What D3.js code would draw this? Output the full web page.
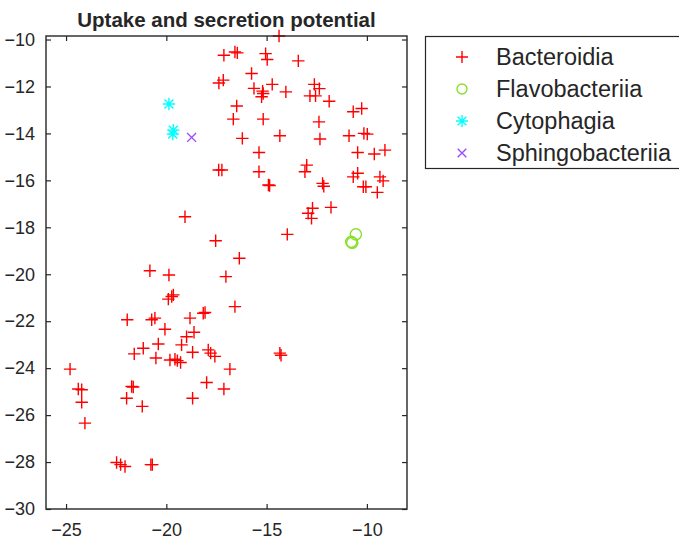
<!DOCTYPE html>
<html>
<head>
<meta charset="utf-8">
<script src="https://cdn.jsdelivr.net/npm/d3@7"></script>
<style>
  html, body { margin: 0; padding: 0; background: #fff; }
  svg { display: block; }
  text { font-family: "Liberation Sans", Arial, Helvetica, sans-serif; fill: #262626; }
</style>
</head>
<body>
<svg id="chart" width="679" height="546"></svg>
<script>
// Embedding coordinates per class
const bacteroidiaX = [-14.38,-17.13,-16.58,-16.46,-15.05,-14.97,-13.42,-17.16,-17.38,-15.75,-15.63,-15.17,-15.25,-15.20,-14.72,-14.04,-12.62,-12.37,-12.84,-12.56,-11.88,-16.49,-16.66,-15.17,-12.39,-10.68,-10.26,-16.21,-14.34,-12.34,-10.89,-10.15,-9.98,-15.38,-10.46,-9.63,-9.10,-17.39,-17.23,-15.38,-13.00,-13.09,-14.91,-14.85,-12.21,-12.15,-10.68,-10.46,-10.18,-10.05,-9.35,-9.19,-9.48,-12.71,-12.93,-12.76,-11.79,-13.97,-16.36,-17.03,-16.58,-14.34,-14.28,-19.07,-17.54,-20.82,-19.87,-19.90,-19.73,-19.65,-21.95,-20.73,-20.57,-18.82,-18.16,-18.07,-20.07,-18.62,-18.99,-20.40,-19.24,-21.15,-21.60,-18.69,-17.91,-17.79,-17.58,-20.52,-19.82,-19.57,-19.45,-19.29,-24.80,-24.39,-24.22,-24.22,-24.06,-21.73,-21.65,-21.98,-21.20,-18.69,-17.99,-17.13,-16.83,-22.48,-22.28,-22.06,-20.77,-20.70];
const bacteroidiaY = [-9.85,-10.67,-10.53,-10.57,-10.60,-10.85,-10.91,-11.73,-11.85,-11.45,-12.08,-12.30,-12.44,-12.20,-11.91,-12.23,-11.91,-12.09,-12.40,-12.40,-12.63,-12.83,-13.39,-13.39,-13.51,-13.08,-12.94,-14.21,-14.10,-14.24,-14.10,-14.00,-14.03,-14.81,-14.81,-14.88,-14.71,-15.56,-15.56,-15.63,-15.35,-15.63,-16.20,-16.22,-16.13,-16.25,-15.85,-15.70,-16.27,-16.27,-15.85,-16.02,-16.51,-17.19,-17.40,-17.62,-17.15,-18.30,-19.32,-20.10,-21.38,-23.36,-23.45,-17.55,-18.57,-19.85,-20.03,-21.06,-20.95,-20.88,-21.94,-21.94,-21.87,-21.87,-21.66,-21.63,-22.34,-22.47,-22.66,-22.97,-23.01,-23.15,-23.39,-23.32,-23.22,-23.36,-23.50,-23.57,-23.65,-23.62,-23.68,-23.76,-24.04,-24.89,-24.92,-25.45,-26.34,-24.78,-24.80,-25.28,-25.63,-25.28,-24.61,-24.89,-24.04,-28.02,-28.11,-28.19,-28.11,-28.11];
const flavobacteriiaX = [-10.55,-10.73,-10.78];
const flavobacteriiaY = [-18.30,-18.66,-18.62];
const cytophagiaX = [-19.87,-19.65,-19.68];
const cytophagiaY = [-12.75,-13.86,-14.03];
const sphingobacteriiaX = [-18.74];
const sphingobacteriiaY = [-14.17];

const classNames = ["Bacteroidia","Flavobacteriia","Cytophagia","Sphingobacteriia"];
const classColors = ["#ff0000","#88e02a","#00ffff","#9a4dff"];
const classMarkers = ["plus","circle","asterisk","cross"];

const xTicks = [-25,-20,-15,-10];
const yTicks = [-30,-28,-26,-24,-22,-20,-18,-16,-14,-12,-10];
const xDomain = [-26,-8];
const yDomain = [-30,-9.85];
const titleText = "Uptake and secretion potential";

const plot = { left: 46, right: 407, top: 36, bottom: 509 };
const axisColor = "#262626";

const svg = d3.select("#chart");
const x = d3.scaleLinear().domain(xDomain).range([plot.left, plot.right]);
const y = d3.scaleLinear().domain(yDomain).range([plot.bottom, plot.top]);

// Marker path generators (centered on 0,0)
function markerPath(kind, s) {
  const p = d3.path();
  if (kind === "plus") {
    p.moveTo(-s, 0); p.lineTo(s, 0); p.moveTo(0, -s); p.lineTo(0, s);
  } else if (kind === "cross") {
    const c = s * 0.72;
    p.moveTo(-c, -c); p.lineTo(c, c); p.moveTo(-c, c); p.lineTo(c, -c);
  } else if (kind === "asterisk") {
    const c = s * 0.72;
    p.moveTo(-s, 0); p.lineTo(s, 0); p.moveTo(0, -s); p.lineTo(0, s);
    p.moveTo(-c, -c); p.lineTo(c, c); p.moveTo(-c, c); p.lineTo(c, -c);
  } else if (kind === "circle") {
    p.moveTo(s, 0); p.arc(0, 0, s, 0, 2 * Math.PI);
  }
  return p.toString();
}

// Axes background
svg.append("rect")
  .attr("x", plot.left).attr("y", plot.top)
  .attr("width", plot.right - plot.left).attr("height", plot.bottom - plot.top)
  .attr("fill", "#fff");

// Bottom axis with inward ticks and labels
const xAxisB = d3.axisBottom(x).tickValues(xTicks).tickSizeInner(-5).tickSizeOuter(0).tickPadding(14)
  .tickFormat(d3.format("d"));
const gxb = svg.append("g").attr("transform", `translate(0,${plot.bottom})`).call(xAxisB);
// Top axis ticks only
const gxt = svg.append("g").attr("transform", `translate(0,${plot.top})`)
  .call(d3.axisTop(x).tickValues(xTicks).tickSizeInner(-5).tickSizeOuter(0).tickFormat(""));
// Left axis
const yAxisL = d3.axisLeft(y).tickValues(yTicks).tickSizeInner(-5).tickSizeOuter(0).tickPadding(11)
  .tickFormat(d3.format("d"));
const gyl = svg.append("g").attr("transform", `translate(${plot.left},0)`).call(yAxisL);
// Right axis ticks only
const gyr = svg.append("g").attr("transform", `translate(${plot.right},0)`)
  .call(d3.axisRight(y).tickValues(yTicks).tickSizeInner(-5).tickSizeOuter(0).tickFormat(""));

[gxb, gxt, gyl, gyr].forEach(g => {
  g.select(".domain").remove();
  g.selectAll(".tick line").attr("stroke", axisColor).attr("stroke-width", 1.2);
  g.selectAll(".tick text").attr("fill", axisColor).style("font-size", "18px")
    .style("font-family", '"Liberation Sans", Arial, sans-serif');
});
gxb.selectAll(".tick text").attr("dy", "0.71em");

// Data marks
const layer = svg.append("g");
const groups = [
  [bacteroidiaX, bacteroidiaY],
  [flavobacteriiaX, flavobacteriiaY],
  [cytophagiaX, cytophagiaY],
  [sphingobacteriiaX, sphingobacteriiaY]
];
const markerSize = [6.2, 5.6, 6.2, 6.2];
groups.forEach(([xs, ys], gi) => {
  const pts = xs.map((v, i) => [v, ys[i]]);
  layer.selectAll(null).data(pts).enter().append("path")
    .attr("transform", d => `translate(${x(d[0])},${y(d[1])})`)
    .attr("d", markerPath(classMarkers[gi], markerSize[gi]))
    .attr("fill", "none")
    .attr("stroke", classColors[gi])
    .attr("stroke-width", 1.4);
});

// Box outline on top
svg.append("rect")
  .attr("x", plot.left).attr("y", plot.top)
  .attr("width", plot.right - plot.left).attr("height", plot.bottom - plot.top)
  .attr("fill", "none").attr("stroke", axisColor).attr("stroke-width", 1.4);

// Title
svg.append("text")
  .attr("x", (plot.left + plot.right) / 2).attr("y", 27)
  .attr("text-anchor", "middle")
  .style("font-size", "20.5px").style("font-weight", "bold")
  .attr("fill", "#000")
  .text(titleText);

// Legend
const legend = svg.append("g");
legend.append("rect")
  .attr("x", 425.5).attr("y", 36.5).attr("width", 270).attr("height", 132)
  .attr("fill", "#fff").attr("stroke", axisColor).attr("stroke-width", 1.2);
const legendRowY = d3.scaleLinear().domain([0, 3]).range([57, 153]);
classNames.forEach((name, i) => {
  legend.append("path")
    .attr("transform", `translate(462,${legendRowY(i)})`)
    .attr("d", markerPath(classMarkers[i], i === 1 ? 5 : 6))
    .attr("fill", "none").attr("stroke", classColors[i]).attr("stroke-width", 1.4);
  legend.append("text")
    .attr("x", 496).attr("y", legendRowY(i))
    .attr("dy", "0.35em")
    .style("font-size", "23.5px")
    .attr("fill", axisColor)
    .text(name);
});
</script>
</body>
</html>
